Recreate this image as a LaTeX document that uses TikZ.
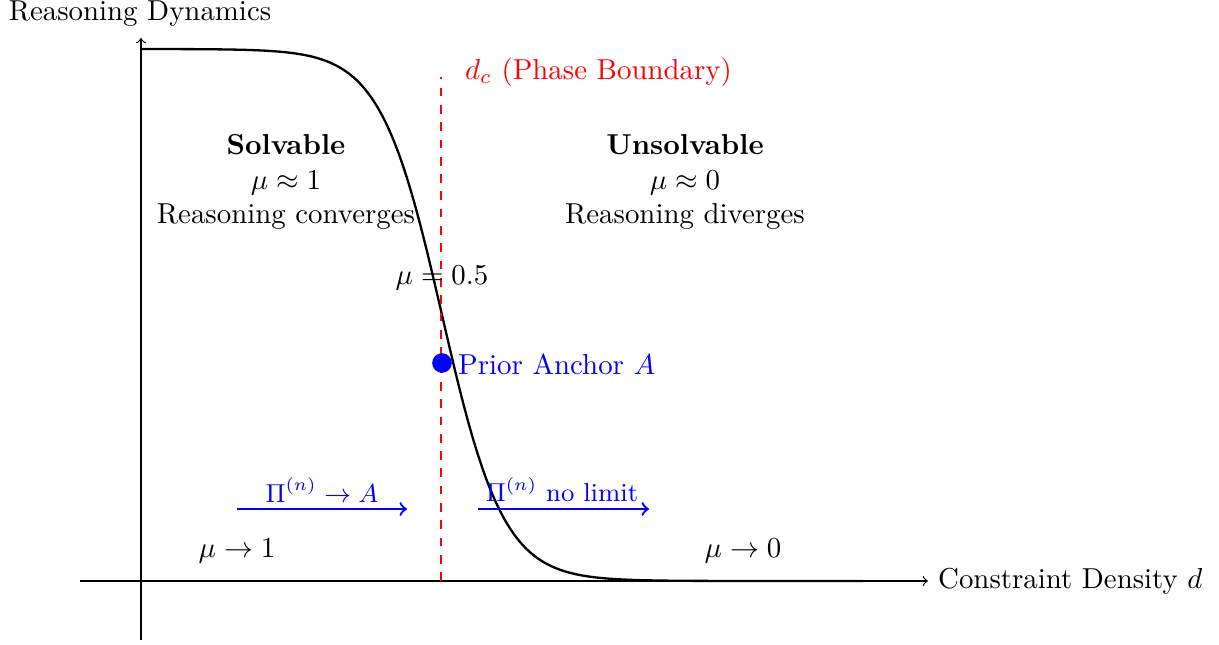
\documentclass[tikz,border=0pt]{standalone}
\usetikzlibrary{arrows}
\begin{document}
\begin{tikzpicture}[x=0.3466pt,y=-0.3466pt,
  axis/.style={->},
  curve/.style={thick,black},
  boundary/.style={thick,red,dashed},
  flow/.style={thick,blue,->},
  flowlabel/.style={blue,font=\small},
  regionlabel/.style={align=center}]
\useasboundingbox (0,0) rectangle (1219,645);
% axes
\coordinate (xs) at (80,581);
\coordinate (xe) at (928,581);
\coordinate (ys) at (141,640);
\coordinate (ye) at (141,38);
\draw[axis] (xs) -- (xe) node[right] (xlab) {Constraint Density $d$};
\draw[axis] (ys) -- (ye);
\node (ylab) at (140,14) {Reasoning Dynamics};
% curve
\draw[curve] plot[domain=141:863,samples=200,smooth]
  (\x,{581-532/(1+exp(min(0.0325*(\x-442),9)))});
% phase boundary
\coordinate (dtop) at (441,77);
\coordinate (dbot) at (441,581);
\draw[boundary] (dbot) -- (dtop);
\node[red,anchor=west] (dlab) at (455,72) {$d_c$ (Phase Boundary)};
% regions
\node[regionlabel] (solv) at (286,182) {\textbf{Solvable}\\$\mu\approx 1$\\Reasoning converges};
\node[regionlabel] (unsolv) at (685,182) {\textbf{Unsolvable}\\$\mu\approx 0$\\Reasoning diverges};
\node (half) at (442,278) {$\mu = 0.5$};
% anchor
\node[circle,fill=blue,inner sep=0pt,minimum size=6.8pt] (anchor) at (442,363) {};
\node[blue,anchor=west] (anchorlab) at (448,364) {Prior Anchor $A$};
% flows
\coordinate (l1) at (237,509);
\coordinate (l2) at (407,509);
\coordinate (r1) at (478,509);
\coordinate (r2) at (649,509);
\draw[flow] (l1) -- (l2);
\draw[flow] (r1) -- (r2);
\node[flowlabel] (llab) at (322,490) {$\Pi^{(n)} \to A$};
\node[flowlabel] (rlab) at (562,490) {$\Pi^{(n)}$ no limit};
% limits
\node (mu1) at (237,551) {$\mu \to 1$};
\node (mu0) at (743,551) {$\mu \to 0$};
\end{tikzpicture}
\end{document}
